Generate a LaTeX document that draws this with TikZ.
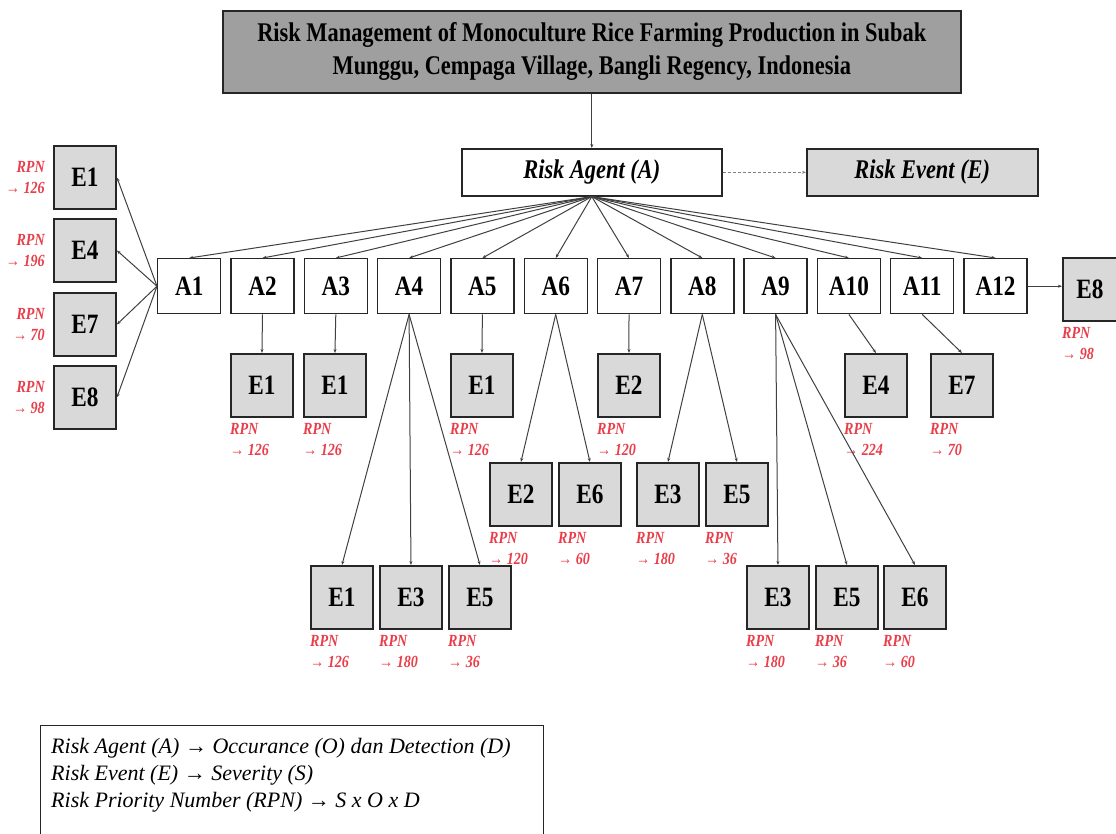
\documentclass[tikz,border=0pt]{standalone}
\usepackage{fontspec}
\setmainfont{Liberation Serif}
\newfontfamily\condserif[FakeStretch=0.83]{Liberation Serif}
\usetikzlibrary{arrows.meta}
\definecolor{rpnred}{RGB}{232,62,74}

\begin{document}
\begin{tikzpicture}[x=1pt, y=-1pt,
    box/.style={draw=black!85, line width=1.6pt, inner sep=0pt, font=\condserif\bfseries\fontsize{28}{30}\selectfont},
    agentbox/.style={box, line width=1.4pt, fill=white, minimum width=63pt, minimum height=55pt, anchor=north west},
    eventbox/.style={box, line width=1.9pt, fill=gray!30, minimum width=62pt, minimum height=63pt, anchor=north west},
    link/.style={draw=black!75, line width=1pt, -{Stealth[length=4pt, width=3pt]}},
    rpn/.style={text=rpnred, font=\condserif\bfseries\itshape\fontsize{17}{21}\selectfont, inner sep=0pt, align=left, anchor=north west}]
    \useasboundingbox (0,0) rectangle (1116,834);

    % Title and heads
    \node[box, fill=gray!75, minimum width=738pt, minimum height=82pt, align=center, anchor=north west,
          font=\condserif\bfseries\fontsize{27}{33}\selectfont] (title) at (222,10)
        {Risk Management of Monoculture Rice Farming Production in Subak\\Munggu, Cempaga Village, Bangli Regency, Indonesia};
    \node[box, fill=white, minimum width=260pt, minimum height=47pt, anchor=north west,
          font=\condserif\bfseries\itshape\fontsize{27}{30}\selectfont] (agent) at (461,148) {Risk Agent (A)};
    \node[box, fill=gray!30, minimum width=231pt, minimum height=47pt, anchor=north west,
          font=\condserif\bfseries\itshape\fontsize{27}{30}\selectfont] (event) at (806,148) {Risk Event (E)};
    \draw[link] (title) -- (agent);
    \draw[link, densely dashed, draw=black!50] (agent) -- (event);

    % Risk agents
    \foreach \i in {1,...,12} {
        \node[agentbox] (a\i) at ({157+73.3*(\i-1)},258) {A\i};
        \draw[link] (agent.south) -- (a\i.north);
    }

    % Events of A1
    \node[eventbox] (l1) at (53,145) {E1};
    \node[eventbox] (l4) at (53,218) {E4};
    \node[eventbox] (l7) at (53,292) {E7};
    \node[eventbox] (l8) at (53,365) {E8};
    \node[rpn, align=right, anchor=east] (rl1) at ([xshift=-8pt]l1.west) {RPN\\→ 126};
    \node[rpn, align=right, anchor=east] (rl4) at ([xshift=-8pt]l4.west) {RPN\\→ 196};
    \node[rpn, align=right, anchor=east] (rl7) at ([xshift=-8pt]l7.west) {RPN\\→ 70};
    \node[rpn, align=right, anchor=east] (rl8) at ([xshift=-8pt]l8.west) {RPN\\→ 98};
    \draw[link] (a1.west) -- (l1.east);
    \draw[link] (a1.west) -- (l4.east);
    \draw[link] (a1.west) -- (l7.east);
    \draw[link] (a1.west) -- (l8.east);

    % Event of A12
    \node[eventbox, minimum width=54pt] (r8) at (1062,257) {E8};
    \node[rpn] (rr8) at ([yshift=-5pt]r8.south west) {RPN\\→ 98};
    \draw[link] (a12.east) -- (a12.east -| r8.west);

    % First row of events
    \node[eventbox] (b2) at (230,353) {E1};
    \node[eventbox] (b3) at (303,353) {E1};
    \node[eventbox] (b5) at (450,353) {E1};
    \node[eventbox] (b7) at (597,353) {E2};
    \node[eventbox] (b10) at (844,353) {E4};
    \node[eventbox] (b11) at (930,353) {E7};
    \node[rpn] (rb2) at ([yshift=-5pt]b2.south west) {RPN\\→ 126};
    \node[rpn] (rb3) at ([yshift=-5pt]b3.south west) {RPN\\→ 126};
    \node[rpn] (rb5) at ([yshift=-5pt]b5.south west) {RPN\\→ 126};
    \node[rpn] (rb7) at ([yshift=-5pt]b7.south west) {RPN\\→ 120};
    \node[rpn] (rb10) at ([yshift=-5pt]b10.south west) {RPN\\→ 224};
    \node[rpn] (rb11) at ([yshift=-5pt]b11.south west) {RPN\\→ 70};
    \draw[link] (a2.south) -- (b2.north);
    \draw[link] (a3.south) -- (b3.north);
    \draw[link] (a5.south) -- (b5.north);
    \draw[link] (a7.south) -- (b7.north);
    \draw[link] (a10.south) -- (b10.north);
    \draw[link] (a11.south) -- (b11.north);

    % Second row of events
    \node[eventbox] (c62) at (489,462) {E2};
    \node[eventbox] (c66) at (558,462) {E6};
    \node[eventbox] (c83) at (636,462) {E3};
    \node[eventbox] (c85) at (705,462) {E5};
    \node[rpn] (rc62) at ([yshift=-5pt]c62.south west) {RPN\\→ 120};
    \node[rpn] (rc66) at ([yshift=-5pt]c66.south west) {RPN\\→ 60};
    \node[rpn] (rc83) at ([yshift=-5pt]c83.south west) {RPN\\→ 180};
    \node[rpn] (rc85) at ([yshift=-5pt]c85.south west) {RPN\\→ 36};
    \draw[link] (a6.south) -- (c62.north);
    \draw[link] (a6.south) -- (c66.north);
    \draw[link] (a8.south) -- (c83.north);
    \draw[link] (a8.south) -- (c85.north);

    % Third row of events
    \node[eventbox] (d41) at (310,565) {E1};
    \node[eventbox] (d43) at (379,565) {E3};
    \node[eventbox] (d45) at (448,565) {E5};
    \node[eventbox] (d93) at (746,565) {E3};
    \node[eventbox] (d95) at (815,565) {E5};
    \node[eventbox] (d96) at (883,565) {E6};
    \node[rpn] (rd41) at ([yshift=-5pt]d41.south west) {RPN\\→ 126};
    \node[rpn] (rd43) at ([yshift=-5pt]d43.south west) {RPN\\→ 180};
    \node[rpn] (rd45) at ([yshift=-5pt]d45.south west) {RPN\\→ 36};
    \node[rpn] (rd93) at ([yshift=-5pt]d93.south west) {RPN\\→ 180};
    \node[rpn] (rd95) at ([yshift=-5pt]d95.south west) {RPN\\→ 36};
    \node[rpn] (rd96) at ([yshift=-5pt]d96.south west) {RPN\\→ 60};
    \draw[link] (a4.south) -- (d41.north);
    \draw[link] (a4.south) -- (d43.north);
    \draw[link] (a4.south) -- (d45.north);
    \draw[link] (a9.south) -- (d93.north);
    \draw[link] (a9.south) -- (d95.north);
    \draw[link] (a9.south) -- (d96.north);

    % Legend
    \draw[draw=black!85, line width=1pt] (40,725) rectangle (543,850);
    \node[inner sep=0pt, align=left, anchor=north west, font=\itshape\fontsize{22}{27}\selectfont] (legend) at (51,738)
        {Risk Agent (A) → Occurance (O) dan Detection (D)\\Risk Event (E) → Severity (S)\\Risk Priority Number (RPN) → S x O x D};
\end{tikzpicture}
\end{document}
